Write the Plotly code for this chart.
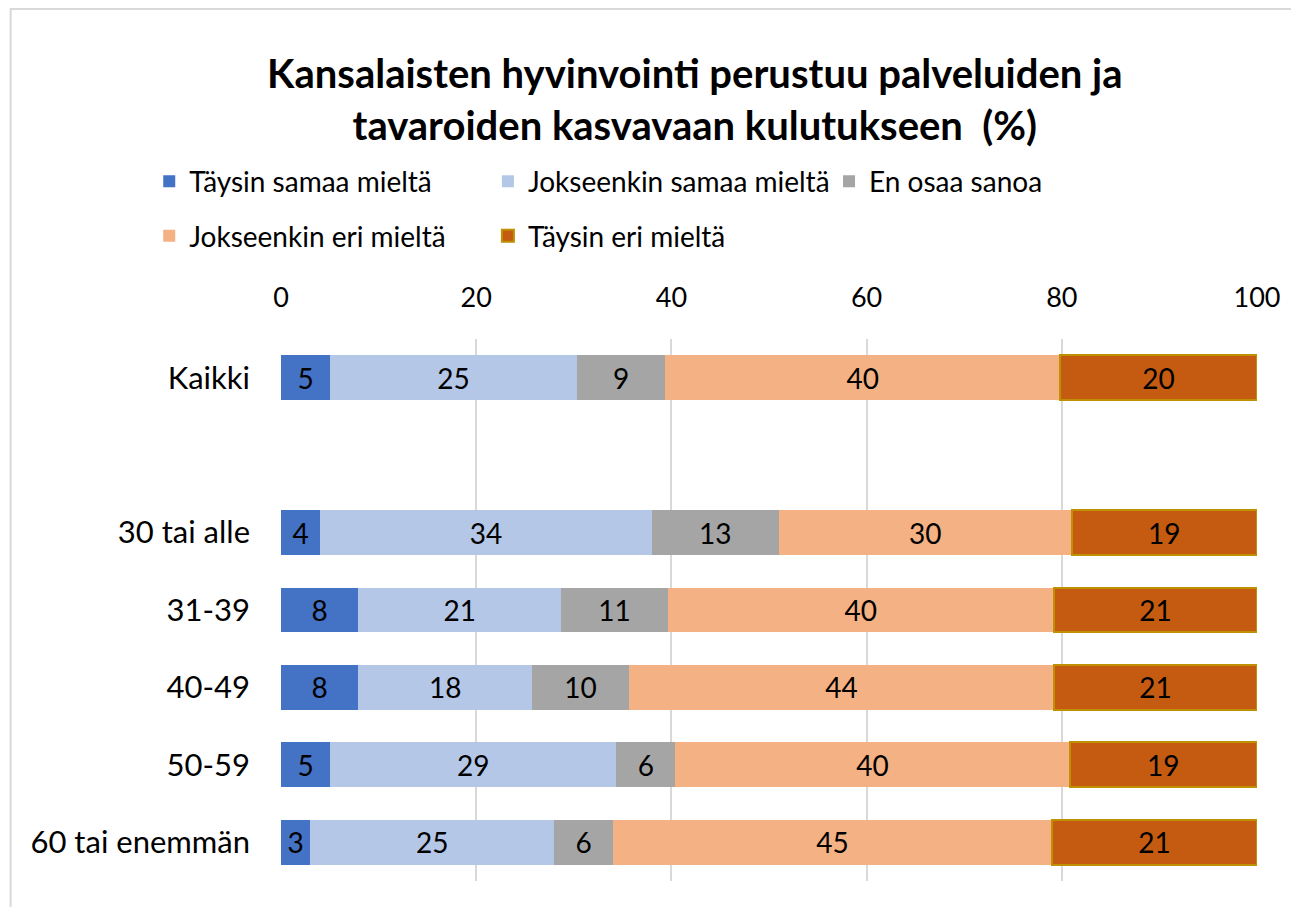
import plotly.graph_objects as go

categories = ["Kaikki", " ", "30 tai alle", "31-39", "40-49", "50-59", "60 tai enemmän"]
series_names = ["Täysin samaa mieltä", "Jokseenkin samaa mieltä", "En osaa sanoa",
                "Jokseenkin eri mieltä", "Täysin eri mieltä"]
taysin_samaa = [5, None, 4, 8, 8, 5, 3]
jokseenkin_samaa = [25, None, 34, 21, 18, 29, 25]
en_osaa = [9, None, 13, 11, 10, 6, 6]
jokseenkin_eri = [40, None, 30, 40, 44, 40, 45]
taysin_eri = [20, None, 19, 21, 21, 19, 21]
x_ticks = [0, 20, 40, 60, 80, 100]

series_values = [taysin_samaa, jokseenkin_samaa, en_osaa, jokseenkin_eri, taysin_eri]
colors = ["#4472C4", "#B4C7E7", "#A5A5A5", "#F4B183", "#C55A11"]
line_colors = [None, None, None, None, "#BF9000"]
legend_ids = ["legend", "legend2", "legend3", "legend", "legend2"]

FONT = "Lato"

fig = go.Figure()
for name, vals, col, lc, lg in zip(series_names, series_values, colors, line_colors, legend_ids):
    fig.add_trace(go.Bar(
        y=categories, x=vals, name=name, orientation="h",
        marker=dict(color=col, line=dict(color=lc if lc else col, width=2 if lc else 0)),
        text=[("" if v is None else str(v)) for v in vals],
        texttemplate="%{text}",
        textposition="inside", insidetextanchor="middle", textangle=0,
        textfont=dict(family=FONT, size=28, color="black"),
        legend=lg, legendgroup=name,
        hoverinfo="x+y+name",
    ))

legend_common = dict(
    orientation="v", traceorder="grouped", tracegroupgap=15,
    font=dict(family=FONT, size=28, color="#000000"),
    bgcolor="rgba(0,0,0,0)", yanchor="top", xanchor="left",
)

fig.update_layout(
    width=1291, height=899,
    barmode="stack", barnorm="percent", bargap=0.42,
    paper_bgcolor="white", plot_bgcolor="white",
    margin=dict(l=273, r=42, t=331, b=26),
    font=dict(family=FONT, size=26, color="#000000"),
    title=dict(
        text="<b>Kansalaisten hyvinvointi perustuu palveluiden ja<br>tavaroiden kasvavaan kulutukseen  (%)</b>",
        font=dict(family=FONT, size=40, color="#000000"),
        x=0.532, xanchor="center", xref="container",
        y=1 - 80 / 899, yanchor="middle", yref="container",
    ),
    uniformtext=dict(mode="show", minsize=28),
    legend=dict(x=-0.135, y=1.3365, **legend_common),
    legend2=dict(x=0.212, y=1.3365, **legend_common),
    legend3=dict(x=0.5615, y=1.3365, **legend_common),
    xaxis=dict(
        side="top", range=[0, 100], tickvals=x_ticks,
        showgrid=True, gridcolor="#D9D9D9", gridwidth=1.5,
        zeroline=False, showline=False, ticks="",
        tickfont=dict(family=FONT, size=27, color="#000000"),
        ticklabelstandoff=26,
    ),
    yaxis=dict(
        autorange="reversed", showgrid=False, zeroline=False, showline=False, ticks="",
        tickfont=dict(family=FONT, size=31, color="#000000"),
        ticklabelstandoff=30,
    ),
    shapes=[dict(
        type="rect", xref="paper", yref="paper",
        x0=-0.277, x1=1.06, y0=-0.2, y1=1.609,
        line=dict(color="#D9D9D9", width=2), fillcolor="rgba(0,0,0,0)", layer="below",
    )],
)

fig.write_html("out.html")
